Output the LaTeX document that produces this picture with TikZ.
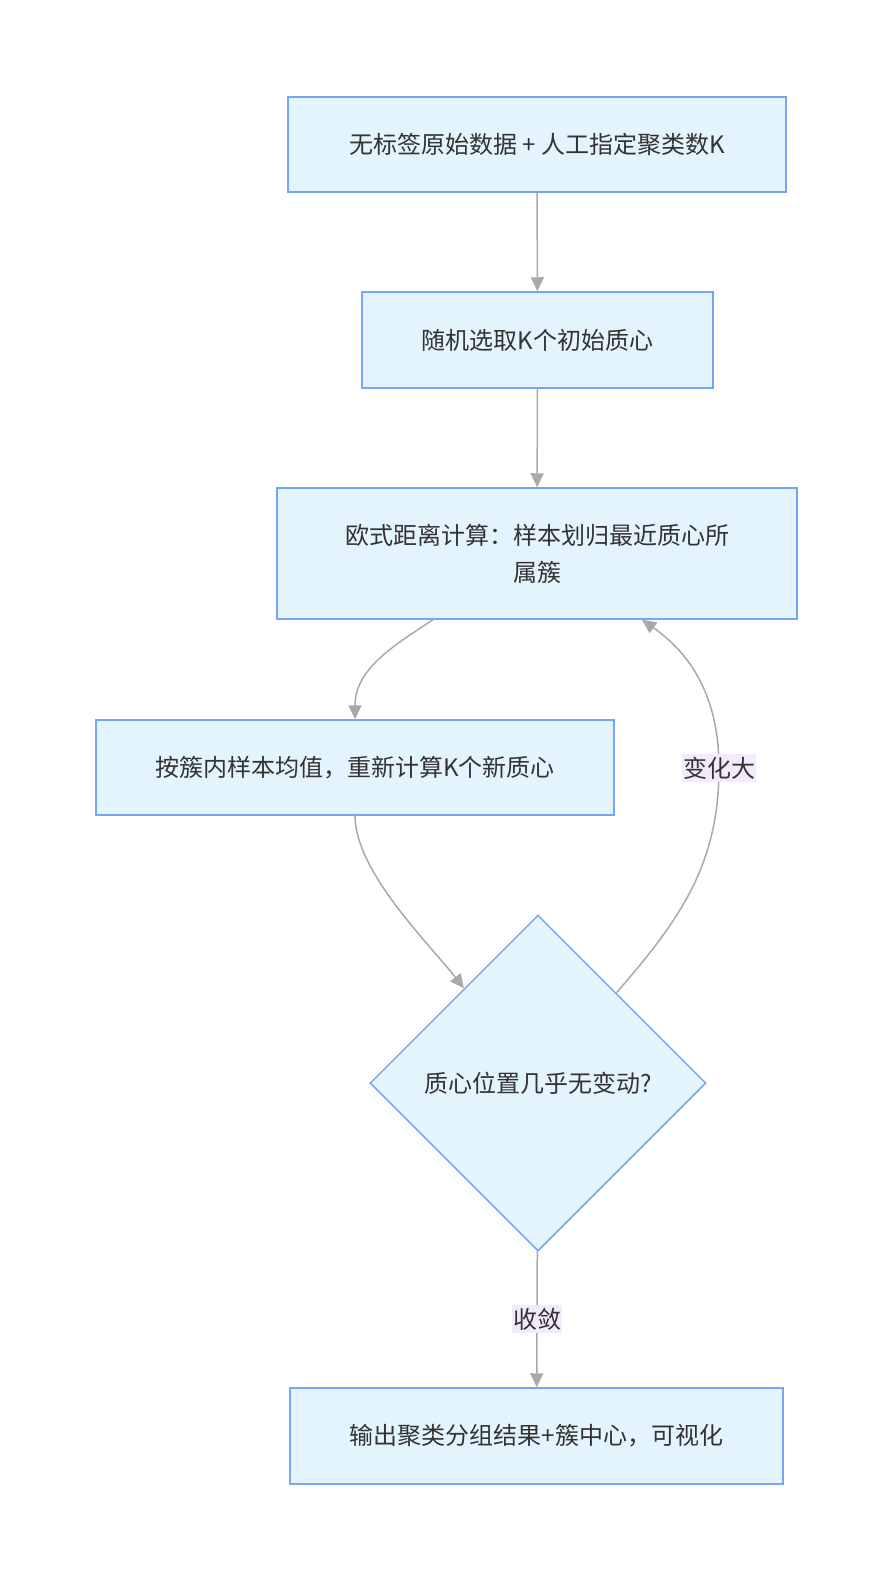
\documentclass[tikz,border=0pt]{standalone}
\usepackage{fontspec}
\newfontfamily\cjk{Noto Sans CJK SC}
\usepackage{xcolor}
\usetikzlibrary{arrows.meta,shapes.geometric}
\definecolor{boxfill}{HTML}{E3F4FD}
\definecolor{boxline}{HTML}{76A5F5}
\definecolor{edgegray}{HTML}{A9A9A9}
\definecolor{lblfill}{HTML}{F3EAFD}
\definecolor{txtgray}{HTML}{333333}
\tikzset{>={Triangle[length=14pt,width=13pt]}}
\tikzset{
  flowbox/.style={draw=boxline,fill=boxfill,line width=1.5pt,text=txtgray,
    font=\cjk\fontsize{24}{37}\selectfont,inner sep=0pt,align=center},
  decide/.style={flowbox,diamond,aspect=1,minimum size=336pt},
  flow/.style={->,draw=edgegray,line width=1.5pt},
  elabel/.style={fill=lblfill,text=txtgray,font=\cjk\fontsize{24}{30}\selectfont,
    inner xsep=1pt,inner ysep=3pt}
}

\begin{document}
\begin{tikzpicture}[x=1pt,y=-1pt]
    \useasboundingbox (0,0) rectangle (893,1580);
      \node[flowbox,minimum width=498pt,minimum height=95pt] (start) at (537,144.5)
        {无标签原始数据 + 人工指定聚类数K};
      \node[flowbox,minimum width=351pt,minimum height=96pt] (init) at (537.5,340)
        {随机选取K个初始质心};
      \node[flowbox,minimum width=520pt,minimum height=131pt] (assign) at (537,553.5)
        {欧式距离计算：样本划归最近质心所\\属簇};
      \node[flowbox,minimum width=518pt,minimum height=95pt] (update) at (355,767.5)
        {按簇内样本均值，重新计算K个新质心};
      \node[decide] (check) at (538,1083) {质心位置几乎无变动?};
      \node[flowbox,minimum width=493pt,minimum height=96pt] (result) at (536.5,1436)
        {输出聚类分组结果+簇中心，可视化};
      \coordinate (loop) at (719,768);
      \draw[flow] (start) -- (init);
      \draw[flow] (init) -- (assign);
      \draw[flow] ([xshift=-104pt]assign.south) to[out=-147,in=90] (update.north);
      \draw[flow] (update.south) to[out=-90,in=128,looseness=0.7] (check);
      \draw[flow] (check) to[out=49,in=-90] (loop) node[elabel]{变化大}
        to[out=90,in=-35] ([xshift=105pt]assign.south);
      \draw[flow] (check) -- node[elabel]{收敛} (result);
     \end{tikzpicture}
\end{document}
